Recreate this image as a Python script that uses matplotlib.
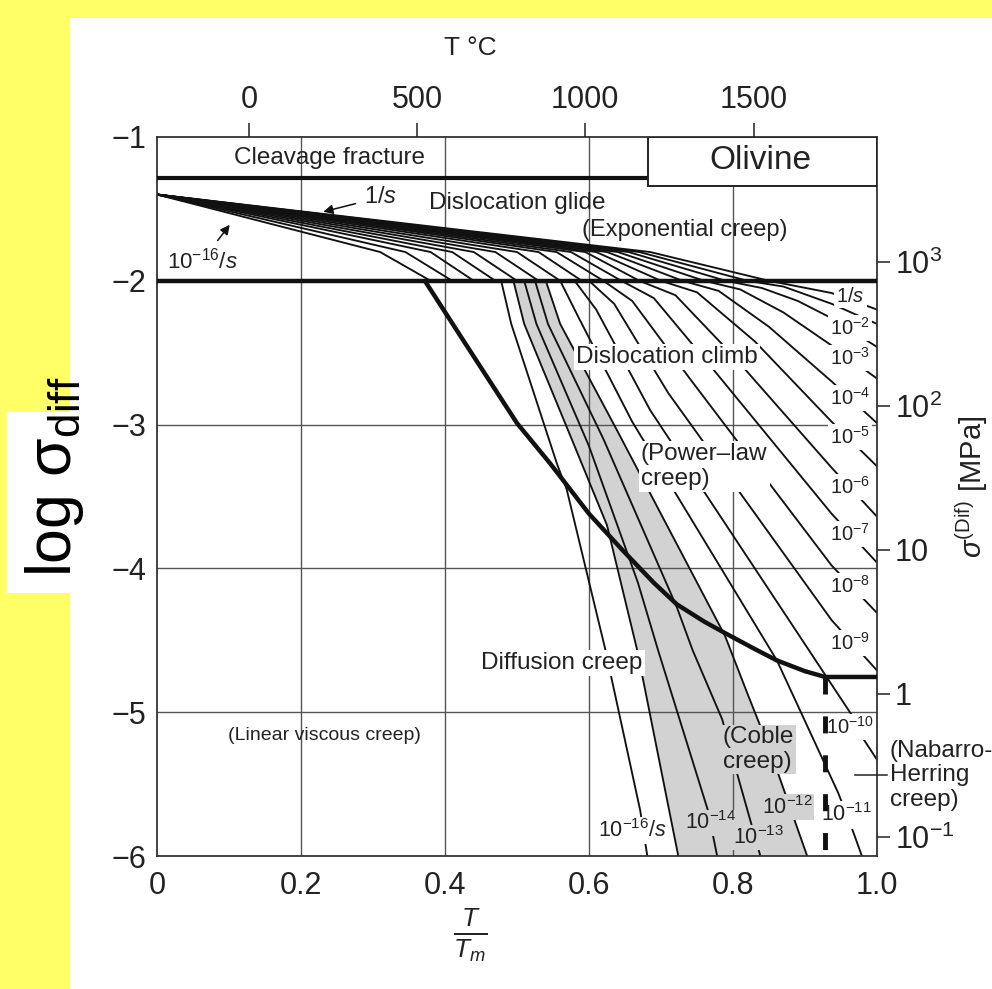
import matplotlib
matplotlib.use("Agg")
import matplotlib.pyplot as plt
from matplotlib.patches import Rectangle, Polygon
import numpy as np

plt.rcParams['font.family'] = ['Liberation Sans', 'DejaVu Sans']
plt.rcParams['mathtext.fontset'] = 'custom'
plt.rcParams['mathtext.rm'] = 'Liberation Sans'
plt.rcParams['mathtext.it'] = 'Liberation Sans:italic'
plt.rcParams['mathtext.bf'] = 'Liberation Sans:bold'

# ---------------- data ----------------
X_TICKS = [0, 0.2, 0.4, 0.6, 0.8, 1.0]
X_TICK_LABELS = ['0', '0.2', '0.4', '0.6', '0.8', '1.0']
Y_TICKS = [-1, -2, -3, -4, -5, -6]
TC_TICKS = [0, 500, 1000, 1500]
T_MELT_K = 2140
MPA_TICKS = [1000, 100, 10, 1, 0.1]
MPA_LABELS = [r'$\mathregular{10^3}$', r'$\mathregular{10^2}$', '10', '1', r'$\mathregular{10^{-1}}$']
LOG_MU_MPA = 4.87

RATE_EXP = [0, -1, -2, -3, -4, -5, -6, -7, -8, -9, -10, -11, -12, -13, -14, -15, -16]
GLIDE_ORIGIN = (0.0, -1.4)
GLIDE_MID_Y = -1.80
GLIDE_MID_X = [0.685, 0.67, 0.655, 0.64, 0.625, 0.61, 0.595, 0.575, 0.555, 0.53, 0.50, 0.47, 0.44, 0.41, 0.38, 0.345, 0.31]
GLIDE_END_X = [0.85, 0.82, 0.79, 0.76, 0.73, 0.70, 0.67, 0.645, 0.62, 0.59, 0.56, 0.53, 0.50, 0.47, 0.44, 0.41, 0.38]
CLIMB_START_X = [0.85, 0.82, 0.79, 0.76, 0.73, 0.70, 0.67, 0.645, 0.62, 0.60, 0.58, 0.56, 0.54, 0.525, 0.51, 0.495, 0.478]
CLIMB_X = [
    [0.937, 1.0],
    [0.87, 0.937, 1.0],
    [0.84, 0.89, 0.937, 1.0],
    [0.81, 0.87, 0.937, 1.0],
    [0.78, 0.85, 0.937, 1.0],
    [0.75, 0.83, 0.937, 1.0],
    [0.72, 0.80, 0.937, 1.0],
    [0.69, 0.77, 0.937, 1.0],
    [0.66, 0.74, 0.937, 1.0],
    [0.635, 0.71, 0.937, 1.0],
    [0.61, 0.685, 0.93, 0.965, 0.979, 1.0],
    [0.585, 0.66, 0.861, 0.946, 0.9625, 0.979],
    [0.56, 0.64, 0.789, 0.82, 0.851, 0.903],
    [0.543, 0.62, 0.722, 0.744, 0.785, 0.807, 0.838],
    [0.527, 0.60, 0.668, 0.696, 0.765, 0.778],
    [0.51, 0.58, 0.625, 0.667, 0.724],
    [0.492, 0.556, 0.569, 0.622, 0.671, 0.681],
]
CLIMB_Y = [
    [-2.085, -2.20],
    [-2.04, -2.16, -2.30],
    [-2.05, -2.14, -2.26, -2.46],
    [-2.06, -2.22, -2.45, -2.68],
    [-2.07, -2.32, -2.70, -2.99],
    [-2.08, -2.42, -2.98, -3.29],
    [-2.10, -2.52, -3.30, -3.64],
    [-2.12, -2.60, -3.62, -3.96],
    [-2.14, -2.68, -3.98, -4.31],
    [-2.16, -2.78, -4.36, -4.71],
    [-2.20, -2.90, -4.755, -5.02, -5.17, -5.33],
    [-2.25, -2.98, -4.64, -5.56, -5.77, -6.0],
    [-2.30, -3.05, -4.47, -4.87, -5.26, -6.0],
    [-2.30, -3.10, -4.27, -4.57, -5.05, -5.45, -6.0],
    [-2.30, -3.15, -4.10, -4.57, -5.68, -6.0],
    [-2.30, -3.15, -3.70, -4.57, -6.0],
    [-2.30, -3.28, -3.45, -4.55, -5.68, -6.0],
]
GRAY_BAND_RATES = (-15, -12)

BOUNDARY_X = [0.372, 0.43, 0.5, 0.546, 0.6, 0.646, 0.69, 0.722, 0.76, 0.789, 0.83, 0.861, 0.90, 0.928, 1.0]
BOUNDARY_Y = [-2.0, -2.45, -2.99, -3.27, -3.62, -3.87, -4.1, -4.25, -4.37, -4.45, -4.56, -4.64, -4.715, -4.755, -4.755]
GLIDE_LIMIT_Y = -2.0
FRACTURE_Y = -1.285
FRACTURE_END_X = 0.682
OLIVINE_BOX = (0.682, -1.341)
DASH_X = 0.928

RIGHT_LABELS = ['1/$\\mathit{s}$', r'$\mathregular{10^{-2}}$', r'$\mathregular{10^{-3}}$', r'$\mathregular{10^{-4}}$',
                r'$\mathregular{10^{-5}}$', r'$\mathregular{10^{-6}}$', r'$\mathregular{10^{-7}}$',
                r'$\mathregular{10^{-8}}$', r'$\mathregular{10^{-9}}$', r'$\mathregular{10^{-10}}$']
RIGHT_LABEL_Y = [-2.106, -2.328, -2.537, -2.815, -3.086, -3.434, -3.761, -4.122, -4.519, -5.10]

# ---------------- figure ----------------
W, H = 992, 989
fig = plt.figure(figsize=(W / 100, H / 100), dpi=100)
fig.patch.set_facecolor('#FFFF66')
fig.add_artist(Rectangle((70 / W, 0), 1 - 70 / W, 1 - 18 / H, transform=fig.transFigure,
                         facecolor='white', edgecolor='none', zorder=0))
fig.add_artist(Rectangle((7 / W, 1 - 593 / H), 64 / W, (593 - 412) / H, transform=fig.transFigure,
                         facecolor='white', edgecolor='none', zorder=0))

ax = fig.add_axes([157 / W, 1 - 856 / H, 720 / W, 719 / H])
ax.set_xlim(0, 1)
ax.set_ylim(-6, -1)
ax.set_facecolor('white')
for s in ax.spines.values():
    s.set_linewidth(1.3)
    s.set_color('#333333')

GRID_C = '#555555'
ax.set_xticks(X_TICKS)
ax.set_xticklabels(X_TICK_LABELS)
ax.set_yticks(Y_TICKS)
ax.tick_params(axis='both', length=0, labelsize=22, colors='#222222')
ax.tick_params(axis='x', pad=11)
ax.tick_params(axis='y', pad=8)
for xv in X_TICKS[1:-1]:
    ax.axvline(xv, color=GRID_C, lw=1.0, zorder=1.5)
for yv in [-3, -4, -5]:
    ax.axhline(yv, color=GRID_C, lw=1.0, zorder=1.5)


def full_line(i):
    xs = [GLIDE_ORIGIN[0], GLIDE_MID_X[i], GLIDE_END_X[i], CLIMB_START_X[i]] + CLIMB_X[i]
    ys = [GLIDE_ORIGIN[1], GLIDE_MID_Y, GLIDE_LIMIT_Y, GLIDE_LIMIT_Y] + CLIMB_Y[i]
    return xs, ys


# gray band (between two contours)
i_a = RATE_EXP.index(GRAY_BAND_RATES[0])
i_b = RATE_EXP.index(GRAY_BAND_RATES[1])
xa = [CLIMB_START_X[i_a]] + CLIMB_X[i_a]
ya = [GLIDE_LIMIT_Y] + CLIMB_Y[i_a]
xb = [CLIMB_START_X[i_b]] + CLIMB_X[i_b]
yb = [GLIDE_LIMIT_Y] + CLIMB_Y[i_b]
poly = list(zip(xa, ya)) + list(zip(xb[::-1], yb[::-1]))
ax.add_patch(Polygon(poly, closed=True, facecolor='#d2d2d2', edgecolor='none', zorder=1))

# strain-rate contours
for i in range(len(RATE_EXP)):
    xs, ys = full_line(i)
    ax.plot(xs, ys, color='#111111', lw=1.35, zorder=2, solid_joinstyle='round')

# boundaries
ax.axhline(GLIDE_LIMIT_Y, color='#111111', lw=3.2, zorder=3)
ax.plot(BOUNDARY_X, BOUNDARY_Y, color='#111111', lw=3.2, zorder=3, solid_capstyle='butt')
ax.plot([0, FRACTURE_END_X], [FRACTURE_Y, FRACTURE_Y], color='#111111', lw=3.0, zorder=3)
ax.add_patch(Rectangle(OLIVINE_BOX, 1 - OLIVINE_BOX[0], -1 - OLIVINE_BOX[1], facecolor='white',
                       edgecolor='#222222', lw=1.4, zorder=3))
ax.plot([DASH_X, DASH_X], [BOUNDARY_Y[-1], -6], color='#111111', lw=3.5, ls=(0, (3.5, 4.5)), zorder=6)

# region texts
txt = dict(color='#222222', zorder=5)
wb = dict(facecolor='white', edgecolor='none', pad=1.5)
gb = dict(facecolor='#d2d2d2', edgecolor='none', pad=1.0)
ax.text(0.24, -1.146, 'Cleavage fracture', fontsize=17.5, ha='center', va='center', **txt)
ax.text(0.838, -1.16, 'Olivine', fontsize=24, ha='center', va='center', **txt)
ax.text(0.50, -1.46, 'Dislocation glide', fontsize=17.5, ha='center', va='center', **txt)
ax.text(0.733, -1.65, '(Exponential creep)', fontsize=17, ha='center', va='center', **txt)
ax.text(0.708, -2.53, 'Dislocation climb', fontsize=17.5, ha='center', va='center', bbox=wb, **txt)
ax.text(0.672, -3.29, '(Power–law\ncreep)', fontsize=17.5, ha='left', va='center', linespacing=1.15, bbox=wb, **txt)
ax.text(0.5625, -4.66, 'Diffusion creep', fontsize=17.5, ha='center', va='center', bbox=wb, **txt)
ax.text(0.233, -5.16, '(Linear viscous creep)', fontsize=14, ha='center', va='center', **txt)
ax.text(0.786, -5.26, '(Coble\ncreep)', fontsize=17.5, ha='left', va='center', linespacing=1.15, bbox=gb, **txt)
ax.text(1.018, -5.44, '(Nabarro-\nHerring\ncreep)', fontsize=17.5, ha='left', va='center', linespacing=1.15,
        clip_on=False, **txt)
ax.plot([0.97, 1.014], [-5.437, -5.437], color='#222222', lw=1.1, clip_on=False, zorder=5)

arrow = dict(arrowstyle='-|>', color='#111111', lw=1.1, mutation_scale=14, shrinkA=4, shrinkB=0)
ax.annotate('1/$\\mathit{s}$', xy=(0.231, -1.52), xytext=(0.31, -1.42), fontsize=17, ha='center', va='center',
            arrowprops=arrow, **txt)
ax.annotate(r'$\mathregular{10^{-16}}$/$\mathit{s}$', xy=(0.101, -1.61), xytext=(0.063, -1.86), fontsize=16,
            ha='center', va='center', arrowprops=arrow, **txt)

for lab, yv in zip(RIGHT_LABELS, RIGHT_LABEL_Y):
    ax.text(0.963, yv, lab, fontsize=14.5, ha='center', va='center', bbox=wb, **txt)
ax.text(0.958, -5.715, r'$\mathregular{10^{-11}}$', fontsize=15.5, ha='center', va='center', bbox=wb, **txt)
ax.text(0.876, -5.66, r'$\mathregular{10^{-12}}$', fontsize=15.5, ha='center', va='center', bbox=gb, **txt)
ax.text(0.835, -5.87, r'$\mathregular{10^{-13}}$', fontsize=15.5, ha='center', va='center', bbox=gb, **txt)
ax.text(0.769, -5.77, r'$\mathregular{10^{-14}}$', fontsize=15.5, ha='center', va='center', bbox=gb, **txt)
ax.text(0.66, -5.82, r'$\mathregular{10^{-16}}$/$\mathit{s}$', fontsize=15.5, ha='center', va='center', bbox=wb, **txt)

# top temperature axis
axt = ax.twiny()
axt.set_xlim(0, 1)
axt.set_xticks([(t + 273) / T_MELT_K for t in TC_TICKS])
axt.set_xticklabels([str(t) for t in TC_TICKS])
axt.tick_params(axis='x', direction='out', length=10, width=1.1, labelsize=22, pad=6, colors='#222222')
for s in axt.spines.values():
    s.set_visible(False)

# right stress axis
axr = ax.twinx()
axr.set_ylim(-6, -1)
axr.set_yticks([np.log10(v) - LOG_MU_MPA for v in MPA_TICKS])
axr.set_yticklabels(MPA_LABELS)
axr.tick_params(axis='y', direction='out', length=9, width=1.1, labelsize=22, pad=4, colors='#222222')
for s in axr.spines.values():
    s.set_visible(False)

fig.text(470 / W, 1 - 48 / H, 'T °C', fontsize=19, ha='center', va='center', color='#222222')
fig.text(470 / W, 1 - 935 / H, r'$\frac{T}{T_m}$', fontsize=27, ha='center', va='center', color='#222222')
fig.text(972 / W, 1 - 487 / H, r'$\sigma^{(\mathrm{Dif})}$ [MPa]', fontsize=21, rotation=90,
         ha='center', va='center', color='#222222')
fig.text(55 / W, 1 - 477 / H, 'log σ$_{\\mathregular{diff}}$', fontsize=45, rotation=90,
         ha='center', va='center', color='black')

fig.savefig('out.png', dpi=100, facecolor=fig.get_facecolor())
